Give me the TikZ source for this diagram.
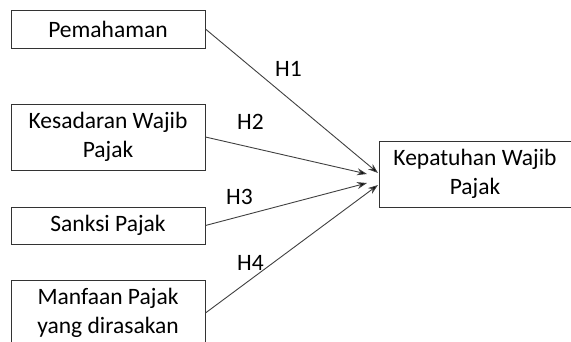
\documentclass[tikz,border=0pt]{standalone}
\usepackage{fontspec}
\setmainfont{Carlito}
\usetikzlibrary{arrows.meta}

\begin{document}
\begin{tikzpicture}[
    x=1pt, y=-1pt,
    font=\fontsize{23.5}{28.5}\selectfont,
    box/.style={draw=black!80, line width=0.9pt, minimum width=194pt,
      align=center, inner sep=0pt},
    pathline/.style={draw=black!75, line width=0.9pt,
      -{Stealth[length=10pt, width=7pt, fill=black]}},
    hlabel/.style={inner sep=0pt}]
    \useasboundingbox (0,0) rectangle (571,342);
    % boxes on the left
    \node [box, minimum height=38pt] (pem) at (108,29) {Pemahaman};
    \node [box, minimum height=66pt] (kes) at (108,137) {Kesadaran Wajib\\Pajak};
    \node [box, minimum height=37pt] (san) at (108,225.5) {Sanksi Pajak};
    \node [box, minimum height=66pt] (man) at (108,313) {Manfaan Pajak\\yang dirasakan};
    % box on the right
    \node [box, minimum width=192pt, minimum height=66pt] (kep) at (475,174) {Kepatuhan Wajib\\Pajak};
    % arrow ends
    \coordinate (tipa) at (378,173);
    \coordinate (tipb) at (367,174);
    \coordinate (tipc) at (367,183);
    \coordinate (tipd) at (378,185);
    \draw [pathline] (pem.east) -- (tipa);
    \draw [pathline] (kes.east) -- (tipb);
    \draw [pathline] (san.east) -- (tipc);
    \draw [pathline] (man.east) -- (tipd);
    % labels
    \node [hlabel] (ha) at (288.5,69) {H1};
    \node [hlabel] (hb) at (250.5,122) {H2};
    \node [hlabel] (hc) at (239.5,196.5) {H3};
    \node [hlabel] (hd) at (250.5,262.5) {H4};
  \end{tikzpicture}
\end{document}
